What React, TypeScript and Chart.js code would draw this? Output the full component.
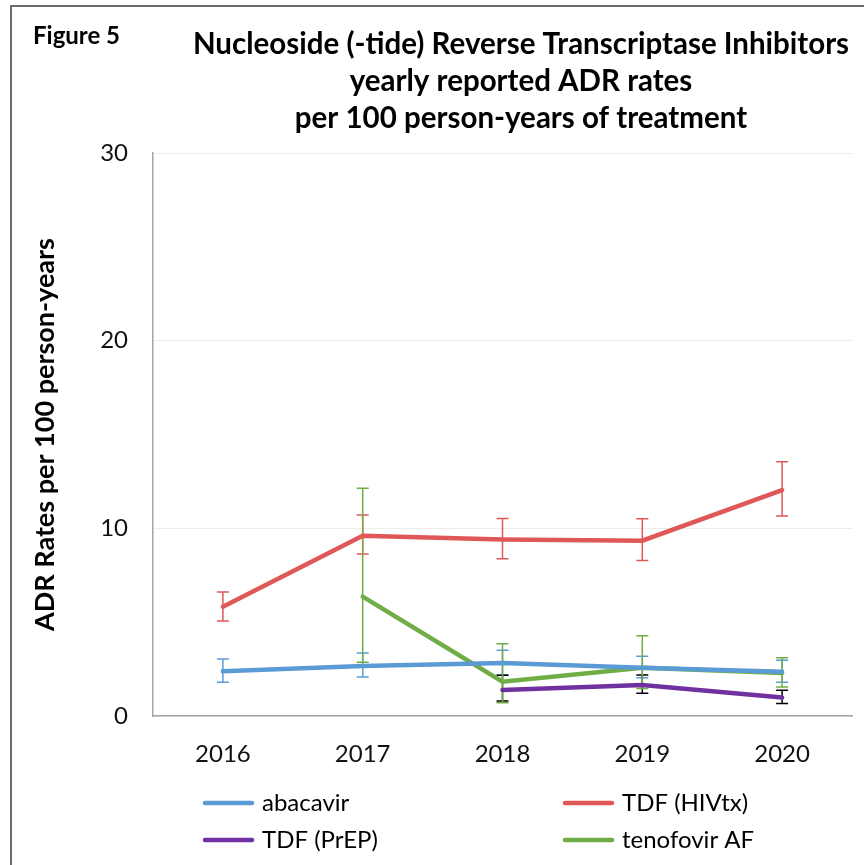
import React, { useEffect, useRef } from 'react';
import { Chart, registerables } from 'chart.js';

Chart.register(...registerables);

const years = ['2016', '2017', '2018', '2019', '2020'];
const seriesLabels = ['abacavir', 'TDF (HIVtx)', 'TDF (PrEP)', 'tenofovir AF'];
const seriesColors = ['#5B9BD5', '#E05757', '#7030A0', '#70AD47'];
const errorColors = ['#5B9BD5', '#E05757', '#000000', '#70AD47'];

const abacavir = [2.38, 2.66, 2.82, 2.57, 2.36];
const abacavirLow = [1.8, 2.08, 2.18, 2.04, 1.8];
const abacavirHigh = [3.04, 3.36, 3.5, 3.18, 2.97];

const tdfHiv = [5.82, 9.61, 9.41, 9.34, 12.04];
const tdfHivLow = [5.06, 8.63, 8.38, 8.29, 10.66];
const tdfHivHigh = [6.61, 10.71, 10.53, 10.51, 13.55];

const tdfPrep = [null, null, 1.39, 1.65, 0.98];
const tdfPrepLow = [null, null, 0.8, 1.21, 0.66];
const tdfPrepHigh = [null, null, 2.17, 2.18, 1.37];

const tenofovirAF = [null, 6.36, 1.83, 2.57, 2.29];
const tenofovirAFLow = [null, 2.86, 0.71, 1.47, 1.55];
const tenofovirAFHigh = [null, 12.13, 3.85, 4.28, 3.11];

const yMin = 0;
const yMax = 30;
const yStep = 10;

const titleLines = [
  'Nucleoside (-tide) Reverse Transcriptase Inhibitors',
  'yearly reported ADR rates',
  'per 100 person-years of treatment',
];
const figureLabel = 'Figure 5';
const yAxisTitle = 'ADR Rates per 100 person-years';

const seriesValues = [abacavir, tdfHiv, tdfPrep, tenofovirAF];
const seriesLow = [abacavirLow, tdfHivLow, tdfPrepLow, tenofovirAFLow];
const seriesHigh = [abacavirHigh, tdfHivHigh, tdfPrepHigh, tenofovirAFHigh];

const FONT = "Lato, 'Noto Sans', sans-serif";

const errorBarPlugin = {
  id: 'errorBars',
  beforeDatasetsDraw(chart: any) {
    const { ctx, scales } = chart;
    const x = scales.x;
    const y = scales.y;
    ctx.save();
    seriesValues.forEach((vals, si) => {
      ctx.strokeStyle = errorColors[si];
      ctx.lineWidth = 1.5;
      vals.forEach((v, i) => {
        const lo = seriesLow[si][i];
        const hi = seriesHigh[si][i];
        if (v == null || lo == null || hi == null) return;
        const px = x.getPixelForValue(i);
        const pLo = y.getPixelForValue(lo);
        const pHi = y.getPixelForValue(hi);
        ctx.beginPath();
        ctx.moveTo(px, pLo);
        ctx.lineTo(px, pHi);
        ctx.moveTo(px - 6, pLo);
        ctx.lineTo(px + 6, pLo);
        ctx.moveTo(px - 6, pHi);
        ctx.lineTo(px + 6, pHi);
        ctx.stroke();
      });
    });
    ctx.restore();
  },
};

const decorPlugin = {
  id: 'decor',
  afterDraw(chart: any) {
    const { ctx, width, height } = chart;
    ctx.save();
    // outer frame
    ctx.strokeStyle = '#6b6b6b';
    ctx.lineWidth = 2;
    ctx.beginPath();
    ctx.moveTo(11, height);
    ctx.lineTo(11, 6);
    ctx.lineTo(width, 6);
    ctx.stroke();

    ctx.fillStyle = '#000';
    ctx.textBaseline = 'middle';
    ctx.textAlign = 'left';
    ctx.font = `bold 24px ${FONT}`;
    ctx.fillText(figureLabel, 33, 36);

    ctx.textAlign = 'center';
    ctx.font = `bold 29.5px ${FONT}`;
    titleLines.forEach((t, i) => {
      ctx.fillText(t, 521, 44 + i * 37);
    });

    // legend
    ctx.font = `24px ${FONT}`;
    ctx.textAlign = 'left';
    chart.data.datasets.forEach((ds: any, i: number) => {
      const col = i % 2;
      const row = Math.floor(i / 2);
      const lx = col === 0 ? 205 : 565;
      const ly = row === 0 ? 803 : 840;
      ctx.strokeStyle = ds.borderColor;
      ctx.lineWidth = 4.5;
      ctx.lineCap = 'round';
      ctx.beginPath();
      ctx.moveTo(lx, ly);
      ctx.lineTo(lx + 47, ly);
      ctx.stroke();
      ctx.fillStyle = '#000';
      ctx.fillText(ds.label, lx + 57, ly);
    });
    ctx.restore();
  },
};

export default function App() {
  const ref = useRef<HTMLCanvasElement | null>(null);
  useEffect(() => {
    if (!ref.current) return;
    const chart = new Chart(ref.current, {
      type: 'line',
      data: {
        labels: years,
        datasets: seriesValues.map((vals, i) => ({
          label: seriesLabels[i],
          data: vals,
          borderColor: seriesColors[i],
          backgroundColor: seriesColors[i],
          borderWidth: 4.5,
          borderCapStyle: 'round',
          pointRadius: 0,
          tension: 0,
          spanGaps: false,
        })),
      },
      options: {
        responsive: false,
        animation: false,
        layout: { padding: { top: 153, right: 12, left: 0, bottom: 0 } },
        plugins: {
          legend: { display: false },
          title: { display: false },
          tooltip: { enabled: false },
        },
        scales: {
          x: {
            type: 'category',
            offset: true,
            grid: { display: false, drawTicks: false },
            border: { display: true, color: '#a6a6a6', width: 1.5 },
            ticks: { color: '#111', font: { family: FONT, size: 24 }, padding: 24 },
            afterFit(scale: any) {
              scale.height = 149;
            },
          },
          y: {
            min: yMin,
            max: yMax,
            grid: { color: '#ececec', lineWidth: 1, drawTicks: false },
            border: { display: true, color: '#a6a6a6', width: 1.5 },
            ticks: { stepSize: yStep, color: '#111', font: { family: FONT, size: 24 }, padding: 25 },
            title: {
              display: true,
              text: yAxisTitle,
              color: '#000',
              font: { family: FONT, size: 27, weight: 'bold' },
              padding: { top: 29, bottom: 0 },
            },
            afterFit(scale: any) {
              scale.width = 153;
            },
          },
        },
      },
      plugins: [errorBarPlugin, decorPlugin],
    } as any);
    return () => chart.destroy();
  }, []);
  return (
    <div style={{ position: 'absolute', left: 0, top: 0, width: 864, height: 865, background: '#fff' }}>
      <canvas ref={ref} width={864} height={865} style={{ display: 'block' }} />
    </div>
  );
}
